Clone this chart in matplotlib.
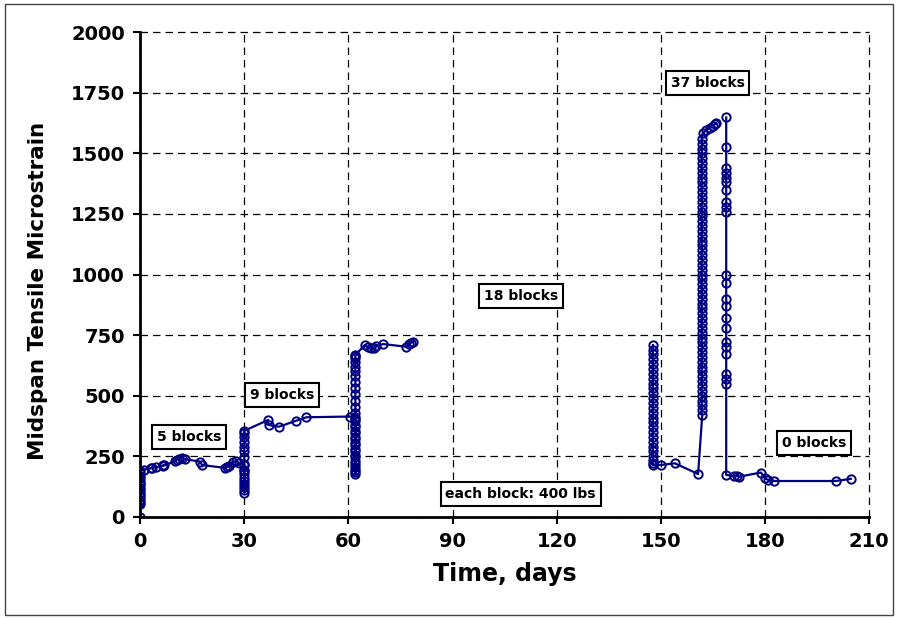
import numpy as np
import matplotlib
matplotlib.use("Agg")
import matplotlib.pyplot as plt
from matplotlib.patches import Rectangle

# --- data (day, microstrain) ---
# 5 blocks, days 0-30
days_a = [0, 0, 0, 0, 0, 0, 0, 0, 0, 0, 0, 0, 0, 0, 0, 0,
          1.0, 3.0, 3.4, 4.5, 6.5, 6.7, 7.0, 10.0, 10.5, 11.2, 12.0, 13.0, 17.3, 17.8,
          24.5, 25.0, 25.5, 26.8, 27.5, 28.5,
          30, 30, 30, 30, 30, 30, 30, 30, 30, 30, 30, 30, 30, 30, 30, 30, 30, 30]
strain_a = [0, 55, 62, 70, 80, 90, 100, 110, 120, 130, 140, 150, 160, 170, 180, 190,
            195, 200, 202, 205, 210, 214, 212, 230, 235, 240, 243, 238, 228, 214,
            202, 206, 210, 227, 230, 222,
            215, 195, 175, 150, 125, 100, 110, 135, 160, 190, 220, 245, 270, 290, 310, 330, 345, 355]
# 9 blocks, days 30-79
days_b = [36.9, 37.0, 40.0, 45.0, 47.9, 60.4,
          62, 62, 62, 62, 62, 62, 62, 62, 62, 62, 62, 62, 62, 62, 62, 62, 62, 62,
          62, 62, 62, 62, 62, 62, 62, 62, 62, 62, 62, 62, 62, 62, 62, 62,
          64.7, 65.5, 66.6, 67.5, 68.0, 70.0, 76.7, 77.5, 78.0, 78.6]
strain_b = [400, 379, 372, 397, 411, 414,
            414, 395, 370, 345, 320, 295, 270, 245, 220, 195, 175, 185, 205, 230, 255, 280,
            305, 330, 355, 380, 405, 430, 455, 480, 505, 530, 555, 580, 600, 620, 640, 655, 665, 668,
            709, 700, 695, 698, 705, 713, 702, 712, 718, 723]
# 18 blocks, days 148-166
days_c = [147.7, 147.7, 147.7, 147.7, 147.7, 147.7, 147.7, 147.7, 147.7, 147.7,
          147.7, 147.7, 147.7, 147.7, 147.7, 147.7, 147.7, 147.7, 147.7, 147.7,
          147.7, 147.7, 147.7, 147.7, 147.7, 147.7, 147.7,
          149.9, 154.0, 160.7,
          161.9, 161.7, 161.9, 161.7, 161.9, 161.7, 161.9, 161.7, 161.9, 161.7,
          161.9, 161.7, 161.9, 161.7, 161.9, 161.7, 161.9, 161.7, 161.9, 161.7,
          161.9, 161.7, 161.9, 161.7, 161.9, 161.7, 161.9, 161.7, 161.9, 161.7,
          161.9, 161.7, 161.9, 161.7, 161.9, 161.7, 161.9, 161.7, 161.9, 161.7,
          161.9, 161.7, 161.9, 161.7, 161.9, 161.7, 161.9, 161.7, 161.9, 161.7,
          161.9, 161.7, 161.9, 161.7, 161.9, 161.7, 161.9, 161.7, 162.0,
          163.0, 164.0, 165.0, 165.5, 166.0]
strain_c = [709, 690, 670, 650, 630, 610, 590, 570, 550, 530,
            510, 490, 470, 450, 430, 410, 390, 370, 350, 330,
            310, 290, 270, 250, 235, 222, 214,
            214, 221, 177,
            421, 440, 460, 480, 500, 520, 540, 560, 580, 600,
            620, 640, 660, 680, 700, 720, 740, 760, 780, 800,
            820, 840, 860, 880, 900, 920, 940, 960, 980, 1000,
            1020, 1040, 1060, 1080, 1100, 1120, 1140, 1160, 1180, 1200,
            1220, 1240, 1260, 1280, 1300, 1320, 1340, 1360, 1380, 1400,
            1420, 1440, 1460, 1480, 1500, 1520, 1540, 1560, 1582,
            1595, 1605, 1612, 1620, 1624]
# 37 blocks then unloaded, days 169-205
days_d = [168.8, 168.8, 168.8, 168.8, 168.8, 168.8, 168.8, 168.8, 168.8, 168.8,
          168.8, 168.8, 168.8, 168.8, 168.8, 168.8, 168.8, 168.8, 168.8, 168.8,
          168.8, 168.8, 168.8,
          171.0, 172.0, 172.6, 178.8, 180.0, 180.8, 182.7, 200.4, 204.7]
strain_d = [1648, 1525, 1440, 1420, 1400, 1380, 1350, 1300, 1280, 1260,
            1000, 965, 900, 870, 820, 780, 720, 700, 670, 590,
            570, 550, 173,
            169, 170, 166, 183, 160, 153, 148, 148, 157]

labels = ["5 blocks", "9 blocks", "18 blocks", "37 blocks", "0 blocks", "each block: 400 lbs"]
label_pos = [(14, 330), (40.8, 503), (109.6, 911), (163.4, 1790), (194, 305), (109.6, 95)]

navy = "#000080"

fig = plt.figure(figsize=(8.98, 6.19), dpi=100)
ax = fig.add_axes([0.156, 0.165, 0.812, 0.783])

style = dict(color=navy, lw=1.6, marker="o", ms=6, mfc="none", mec=navy, mew=1.4)
for d, s in [(days_a + days_b, strain_a + strain_b), (days_c, strain_c), (days_d, strain_d)]:
    ax.plot(d, s, **style)

ax.set_xlim(0, 210)
ax.set_ylim(0, 2000)
ax.set_xticks(np.arange(0, 211, 30))
ax.set_yticks(np.arange(0, 2001, 250))
ax.grid(True, color="black", linestyle=(0, (6, 4)), lw=0.9)
for gl in ax.get_xgridlines() + ax.get_ygridlines():
    gl.set_clip_on(False)
ax.set_axisbelow(True)
for side in ["top", "right"]:
    ax.spines[side].set_visible(False)
for side in ["left", "bottom"]:
    ax.spines[side].set_linewidth(2)
ax.tick_params(direction="out", length=5, width=1.5, labelsize=14, pad=6)
for t in ax.get_xticklabels() + ax.get_yticklabels():
    t.set_fontweight("bold")
ax.set_xlabel("Time, days", fontsize=17, fontweight="bold", labelpad=8)
ax.set_ylabel("Midspan Tensile Microstrain", fontsize=15.5, fontweight="bold")
ax.yaxis.set_label_coords(-0.126, 0.466)

for txt, (x, y) in zip(labels, label_pos):
    ax.text(x, y, txt, ha="center", va="center", fontsize=10, fontweight="bold",
            bbox=dict(boxstyle="square,pad=0.35", fc="white", ec="black", lw=1.5), zorder=5)

fig.patches.append(Rectangle((0.006, 0.006), 0.988, 0.988, transform=fig.transFigure,
                             fill=False, ec="#444444", lw=1))

fig.savefig("out.png", dpi=100)
